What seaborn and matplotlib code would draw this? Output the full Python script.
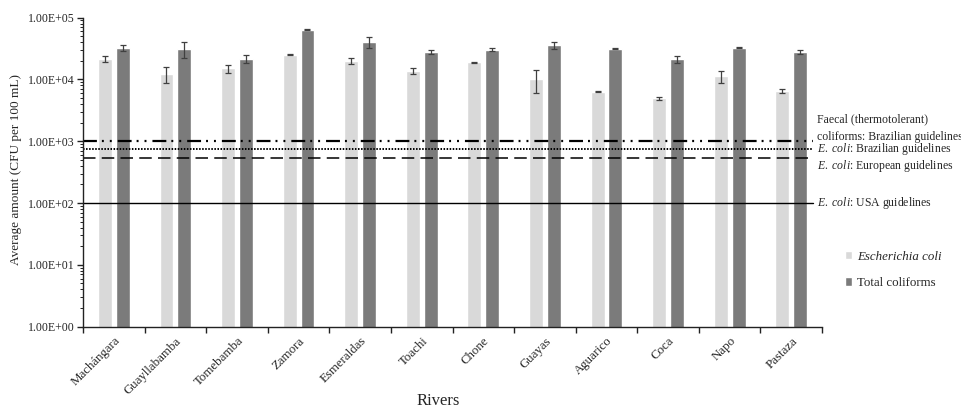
import pandas as pd
import seaborn as sns
import matplotlib
matplotlib.use('Agg')
from matplotlib import pyplot as plt
from matplotlib.patches import Patch
from matplotlib.ticker import FuncFormatter, FixedLocator, LogLocator, NullFormatter

rivers = ['Machángara', 'Guayllabamba', 'Tomebamba', 'Zamora', 'Esmeraldas', 'Toachi',
          'Chone', 'Guayas', 'Aguarico', 'Coca', 'Napo', 'Pastaza']
ecoli = [21700, 12400, 15000, 25200, 19900, 13700, 19000, 10100, 6340, 4960, 11200, 6420]
ecoli_err = [2300, 3700, 2200, 400, 2300, 1400, 300, 4000, 150, 300, 2400, 500]
coliforms = [32300, 31000, 21500, 64000, 40000, 27900, 30300, 35700, 31200, 21500, 32300, 27900]
coliforms_err = [3800, 9200, 3200, 800, 8200, 2500, 1600, 4200, 500, 2800, 700, 2100]

# guideline values (CFU per 100 mL)
faecal_brazil = 1000
ecoli_brazil = 750
ecoli_europe = 530
ecoli_usa = 100

sns.set_style('white')
plt.rcParams['font.family'] = ['Liberation Serif', 'DejaVu Serif']
plt.rcParams['mathtext.fontset'] = 'custom'
plt.rcParams['mathtext.rm'] = 'Liberation Serif'
plt.rcParams['mathtext.it'] = 'Liberation Serif:italic'
plt.rcParams['lines.scale_dashes'] = False

df = pd.DataFrame({
    'River': rivers * 2,
    'Group': ['Escherichia coli'] * len(rivers) + ['Total coliforms'] * len(rivers),
    'Value': ecoli + coliforms,
})
colors = {'Escherichia coli': '#d9d9d9', 'Total coliforms': '#7b7b7b'}

fig = plt.figure(figsize=(9.62, 4.08), dpi=100)
ax = fig.add_axes([0.0863, 0.1993, 0.7682, 0.7577])

sns.barplot(data=df, x='River', y='Value', hue='Group', palette=colors, width=0.58, gap=0.22,
            errorbar=None, legend=False, ax=ax, saturation=1)
ax.set_yscale('log')
ax.set_ylim(1, 1e5)
ax.set_xlim(-0.5, len(rivers) - 0.5)

# error bars
for cont, errs in zip(ax.containers, [ecoli_err, coliforms_err]):
    xs = [p.get_x() + p.get_width() / 2 for p in cont.patches]
    hs = [p.get_height() for p in cont.patches]
    ax.errorbar(xs, hs, yerr=errs, fmt='none', ecolor='#404040', elinewidth=0.9,
                capsize=2.4, capthick=0.9)

# guideline lines
x_end = 11.35
ax.plot([-0.5, x_end], [faecal_brazil] * 2, color='black', lw=1.6,
        linestyle=(0, (10, 3.6, 1.4, 4.3, 1.4, 4.3)), clip_on=False)
ax.plot([-0.5, x_end], [ecoli_brazil] * 2, color='black', lw=1.4,
        linestyle=(0, (1.1, 1.1)), clip_on=False)
ax.plot([-0.5, x_end], [ecoli_europe] * 2, color='black', lw=1.1,
        linestyle=(0, (9, 4.5)), clip_on=False)
ax.plot([-0.5, x_end], [ecoli_usa] * 2, color='black', lw=1.0, clip_on=False)

tx = 11.42
fs = 8.5
ax.annotate('Faecal (thermotolerant)\ncoliforms: Brazilian guidelines', (tx, faecal_brazil),
            xytext=(0, -1), textcoords='offset points', va='bottom', ha='left',
            fontsize=fs, linespacing=1.6, annotation_clip=False)
ax.annotate(r'$\mathit{E.\ coli}$: Brazilian guidelines', (tx, ecoli_brazil),
            xytext=(0, 0), textcoords='offset points', va='center', ha='left',
            fontsize=fs, annotation_clip=False)
ax.annotate(r'$\mathit{E.\ coli}$: European guidelines', (tx, ecoli_europe),
            xytext=(0, 0), textcoords='offset points', va='top', ha='left',
            fontsize=fs, annotation_clip=False)
ax.annotate(r'$\mathit{E.\ coli}$: USA guidelines', (tx, ecoli_usa),
            xytext=(0, 0), textcoords='offset points', va='center', ha='left',
            fontsize=fs, annotation_clip=False)

# axes styling
sns.despine(ax=ax)
for s in ['left', 'bottom']:
    ax.spines[s].set_color('#222222')
    ax.spines[s].set_linewidth(1.0)

ax.yaxis.set_major_formatter(FuncFormatter(lambda v, p: f'{v:.2E}'))
ax.yaxis.set_minor_locator(LogLocator(base=10, subs=range(2, 10), numticks=20))
ax.yaxis.set_minor_formatter(NullFormatter())
ax.tick_params(axis='y', which='major', direction='out', length=4, width=1,
               color='#222222', labelsize=8.6, left=True, pad=2)
ax.tick_params(axis='y', which='minor', direction='out', length=2, width=0.7,
               color='#222222', left=True)

ax.xaxis.set_minor_locator(FixedLocator([i - 0.5 for i in range(len(rivers) + 1)]))
ax.tick_params(axis='x', which='major', length=0, labelsize=9.3, pad=6)
ax.tick_params(axis='x', which='minor', direction='out', length=4, width=1,
               color='#222222', bottom=True)
plt.setp(ax.get_xticklabels(), rotation=45, ha='right', rotation_mode='anchor')

ax.set_xlabel('Rivers', fontsize=12)
ax.xaxis.set_label_coords(0.48, -0.215)
ax.set_ylabel('Average amount (CFU per 100 mL)', fontsize=9.5)
ax.yaxis.set_label_coords(-0.082, 0.508)

handles = [Patch(facecolor=colors['Escherichia coli']), Patch(facecolor=colors['Total coliforms'])]
leg = fig.legend(handles, ['Escherichia coli', 'Total coliforms'], loc='upper left',
                 bbox_to_anchor=(0.878, 0.385), frameon=False, fontsize=9.3,
                 handlelength=0.6, handleheight=0.6, handletextpad=0.35,
                 labelspacing=1.1, borderpad=0, borderaxespad=0)
leg.get_texts()[0].set_fontstyle('italic')

fig.savefig('out.png', dpi=100)
